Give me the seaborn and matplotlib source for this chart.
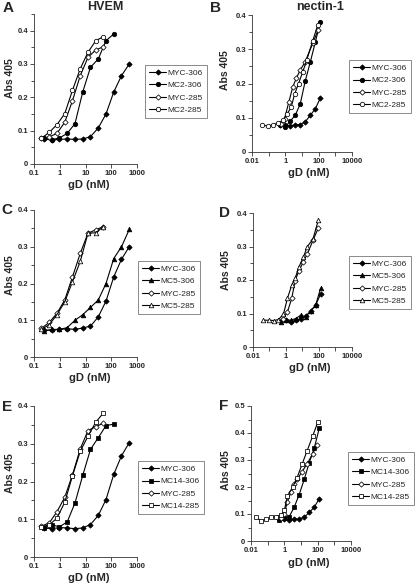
import numpy as np
import matplotlib
matplotlib.use("Agg")
import matplotlib.pyplot as plt
import seaborn as sns

sns.set_style("ticks")
plt.rcParams["font.family"] = ["Liberation Sans", "DejaVu Sans"]

# ---- HVEM panels (A, C, E) ----
x306_hvem = [0.244, 0.488, 0.977, 1.95, 3.9, 7.8, 15.6, 31.25, 62.5, 125, 250, 500]
x285_hvem = [0.195, 0.39, 0.78, 1.56, 3.125, 6.25, 12.5, 25, 50]

A_myc306 = [0.075, 0.072, 0.074, 0.075, 0.074, 0.075, 0.082, 0.108, 0.150, 0.216, 0.265, 0.300]
A_mc2_306 = [0.077, 0.073, 0.078, 0.092, 0.121, 0.216, 0.290, 0.315, 0.370, 0.390]
A_myc285 = [0.077, 0.081, 0.092, 0.125, 0.190, 0.265, 0.320, 0.342, 0.352]
A_mc2_285 = [0.077, 0.095, 0.118, 0.151, 0.221, 0.286, 0.335, 0.370, 0.382]

C_myc306 = [0.073, 0.073, 0.075, 0.077, 0.075, 0.079, 0.084, 0.109, 0.152, 0.218, 0.266, 0.300]
C_mc5_306 = [0.070, 0.075, 0.075, 0.080, 0.100, 0.115, 0.135, 0.155, 0.200, 0.268, 0.300, 0.347]
C_myc285 = [0.078, 0.094, 0.119, 0.155, 0.218, 0.282, 0.337, 0.346, 0.355]
C_mc5_285 = [0.075, 0.088, 0.115, 0.150, 0.205, 0.260, 0.337, 0.338, 0.355]

E_myc306 = [0.077, 0.075, 0.078, 0.077, 0.075, 0.077, 0.086, 0.110, 0.152, 0.219, 0.268, 0.303]
E_mc14_306 = [0.078, 0.085, 0.080, 0.093, 0.143, 0.216, 0.285, 0.316, 0.348, 0.352]
E_myc285 = [0.082, 0.090, 0.120, 0.158, 0.218, 0.286, 0.335, 0.345, 0.355]
E_mc14_285 = [0.080, 0.085, 0.103, 0.145, 0.215, 0.280, 0.320, 0.357, 0.382]

# ---- nectin-1 panels (B, D, F) ----
x306_nec = [0.49, 0.98, 1.95, 3.9, 7.8, 15.6, 31.25, 62.5, 125]
x285_nec = [0.042, 0.096, 0.19, 0.35, 0.70, 1.22, 2.23, 3.55, 6.2, 11.3, 19.6, 43, 90]

B_myc306 = [0.079, 0.078, 0.076, 0.080, 0.080, 0.088, 0.107, 0.126, 0.157]
B_mc2_306 = [0.078, 0.073, 0.090, 0.107, 0.140, 0.207, 0.262, 0.320, 0.380]
B_x_myc285 = [0.55, 0.9, 1.6, 2.8, 4.5, 8, 15, 45, 90]
B_myc285 = [0.083, 0.097, 0.145, 0.190, 0.215, 0.240, 0.262, 0.318, 0.355]
B_mc2_285 = [0.078, 0.076, 0.080, 0.084, 0.092, 0.110, 0.130, 0.168, 0.200, 0.235, 0.270, 0.323, 0.372]

D_myc306 = [0.078, 0.080, 0.075, 0.080, 0.085, 0.092, 0.107, 0.125, 0.158]
D_mc5_306 = [0.075, 0.080, 0.080, 0.085, 0.095, 0.090, 0.108, 0.125, 0.175]
D_x_myc285 = [0.7, 1.22, 2.23, 3.55, 6.2, 11.3, 19.6, 43, 90]
D_myc285 = [0.085, 0.105, 0.145, 0.198, 0.228, 0.255, 0.278, 0.318, 0.355]
D_mc5_285 = [0.080, 0.080, 0.079, 0.082, 0.098, 0.145, 0.185, 0.205, 0.240, 0.268, 0.300, 0.322, 0.378]

F_myc306 = [0.080, 0.081, 0.076, 0.081, 0.081, 0.088, 0.106, 0.125, 0.157]
F_mc14_306 = [0.078, 0.085, 0.090, 0.125, 0.172, 0.228, 0.290, 0.344, 0.418]
F_x_myc285 = [0.65, 1.0, 1.5, 2.5, 4, 6, 11, 23, 51, 95]
F_myc285 = [0.085, 0.100, 0.145, 0.180, 0.210, 0.228, 0.255, 0.285, 0.324, 0.357]
F_x_mc14_285 = [0.02, 0.04, 0.08, 0.16, 0.33, 0.65, 1.0, 1.5, 3.2, 5.8, 12, 23, 51, 105]
F_mc14_285 = [0.088, 0.075, 0.080, 0.088, 0.090, 0.097, 0.113, 0.165, 0.200, 0.234, 0.287, 0.333, 0.390, 0.442]

W, H = 416, 583
fig = plt.figure(figsize=(W / 100, H / 100), dpi=100)


def px_axes(left, top, right, bottom):
    return fig.add_axes([left / W, 1 - bottom / H, (right - left) / W, (bottom - top) / H])


def draw(ax, series, xlim, xticks, xlabels, ylim, yticks, yminor, leg_xy, ylab_xy, xlab_xy):
    for x, y, name, marker, ms, filled in series:
        sns.lineplot(x=x, y=y, ax=ax, color="black", linewidth=0.8,
                     marker=marker, markersize=ms,
                     markerfacecolor="black" if filled else "white",
                     markeredgecolor="black", markeredgewidth=0.55,
                     label=name, legend=False)
    ax.set_xscale("log")
    ax.set_xlim(xlim)
    ax.set_ylim(ylim)
    ax.minorticks_off()
    ax.set_xticks(xticks, xlabels)
    ax.set_yticks(yticks, [("%g" % t) for t in yticks])
    ax.set_yticks(yminor, minor=True)
    ax.tick_params(which="both", direction="out", width=0.6, color="#333333",
                   labelsize=5.5, pad=1.2)
    ax.tick_params(which="major", length=3)
    ax.tick_params(which="minor", length=2)
    for lbl in ax.get_xticklabels() + ax.get_yticklabels():
        lbl.set_fontweight("bold")
    sns.despine(ax=ax)
    for s in ["left", "bottom"]:
        ax.spines[s].set_linewidth(0.6)
        ax.spines[s].set_color("#333333")
    ax.set_ylabel("Abs 405", fontsize=7.5, fontweight="bold", va="center", ha="center")
    ax.set_xlabel("gD (nM)", fontsize=8, fontweight="bold", va="center", ha="center")
    ax.yaxis.set_label_coords(*ylab_xy)
    ax.xaxis.set_label_coords(*xlab_xy)
    leg = ax.legend(handles=ax.get_lines(), loc="upper left",
                    bbox_to_anchor=(leg_xy[0] / W, 1 - leg_xy[1] / H),
                    bbox_transform=fig.transFigure, borderaxespad=0,
                    fontsize=6, frameon=True, fancybox=False, handlelength=2.0,
                    handletextpad=0.2, labelspacing=0.55, borderpad=0.5)
    leg.get_frame().set_edgecolor("#555555")
    leg.get_frame().set_linewidth(0.6)


hv_xt = [0.1, 1, 10, 100, 1000]
hv_xl = ["0.1", "1", "10", "100", "1000"]
nc_xt = [0.01, 0.1, 1, 10, 100, 1000, 10000]
nc_xl = ["0.01", "", "1", "", "100", "", "10000"]
yt4 = [0, 0.1, 0.2, 0.3, 0.4]

DS, OS, TS, SS = 2.7, 3.2, 3.3, 3.0

axA = px_axes(34, 14, 137, 164)
draw(axA, [(x306_hvem, A_myc306, "MYC-306", "D", DS, True),
           (x306_hvem[:10], A_mc2_306, "MC2-306", "o", OS, True),
           (x285_hvem, A_myc285, "MYC-285", "D", DS, False),
           (x285_hvem, A_mc2_285, "MC2-285", "o", OS, False)],
     (0.1, 1000), hv_xt, hv_xl, (0, 0.45), yt4, [0.05, 0.15, 0.25, 0.35, 0.45],
     (145, 65), (-0.23, 0.57), (0.53, -0.14))

axB = px_axes(252, 15, 352, 152)
draw(axB, [(x306_nec, B_myc306, "MYC-306", "D", DS, True),
           (x306_nec, B_mc2_306, "MC2-306", "o", OS, True),
           (B_x_myc285, B_myc285, "MYC-285", "D", DS, False),
           (x285_nec, B_mc2_285, "MC2-285", "o", OS, False)],
     (0.01, 10000), nc_xt, nc_xl, (0, 0.4), yt4, [0.05, 0.15, 0.25, 0.35],
     (349, 60), (-0.27, 0.6), (0.57, -0.153))

axC = px_axes(34, 210, 137, 357)
draw(axC, [(x306_hvem, C_myc306, "MYC-306", "D", DS, True),
           (x306_hvem, C_mc5_306, "MC5-306", "^", TS, True),
           (x285_hvem, C_myc285, "MYC-285", "D", DS, False),
           (x285_hvem, C_mc5_285, "MC5-285", "^", TS, False)],
     (0.1, 1000), hv_xt, hv_xl, (0, 0.4), yt4, [0.05, 0.15, 0.25, 0.35],
     (138, 261), (-0.23, 0.56), (0.54, -0.143))

axD = px_axes(253, 213, 352, 347)
draw(axD, [(x306_nec, D_myc306, "MYC-306", "D", DS, True),
           (x306_nec, D_mc5_306, "MC5-306", "^", TS, True),
           (D_x_myc285, D_myc285, "MYC-285", "D", DS, False),
           (x285_nec, D_mc5_285, "MC5-285", "^", TS, False)],
     (0.01, 10000), nc_xt, nc_xl, (0, 0.4), yt4, [0.05, 0.15, 0.25, 0.35],
     (349, 256), (-0.27, 0.57), (0.57, -0.157))

axE = px_axes(34, 406, 137, 557)
draw(axE, [(x306_hvem, E_myc306, "MYC-306", "D", DS, True),
           (x306_hvem[:10], E_mc14_306, "MC14-306", "s", SS, True),
           (x285_hvem, E_myc285, "MYC-285", "D", DS, False),
           (x285_hvem, E_mc14_285, "MC14-285", "s", SS, False)],
     (0.1, 1000), hv_xt, hv_xl, (0, 0.4), yt4, [0.05, 0.15, 0.25, 0.35],
     (138, 461), (-0.23, 0.556), (0.53, -0.139))

axF = px_axes(251, 406, 351, 541)
draw(axF, [(x306_nec, F_myc306, "MYC-306", "D", DS, True),
           (x306_nec, F_mc14_306, "MC14-306", "s", SS, True),
           (F_x_myc285, F_myc285, "MYC-285", "D", DS, False),
           (F_x_mc14_285, F_mc14_285, "MC14-285", "s", SS, False)],
     (0.01, 10000), nc_xt, nc_xl, (0, 0.5), [0, 0.1, 0.2, 0.3, 0.4, 0.5],
     [0.05, 0.15, 0.25, 0.35, 0.45], (348, 452), (-0.25, 0.526), (0.58, -0.163))

# titles and panel letters
fig.text(105 / W, 1 - 7 / H, "HVEM", fontsize=9, fontweight="bold", ha="center", va="center")
fig.text(320 / W, 1 - 7 / H, "nectin-1", fontsize=9, fontweight="bold", ha="center", va="center")
for letter, lx, ly in [("A", 8, 8), ("B", 215, 8), ("C", 7, 210), ("D", 225, 213),
                       ("E", 7, 407), ("F", 224, 406)]:
    fig.text(lx / W, 1 - ly / H, letter, fontsize=11, fontweight="bold", ha="center", va="center")

fig.savefig("out.png", dpi=100)
